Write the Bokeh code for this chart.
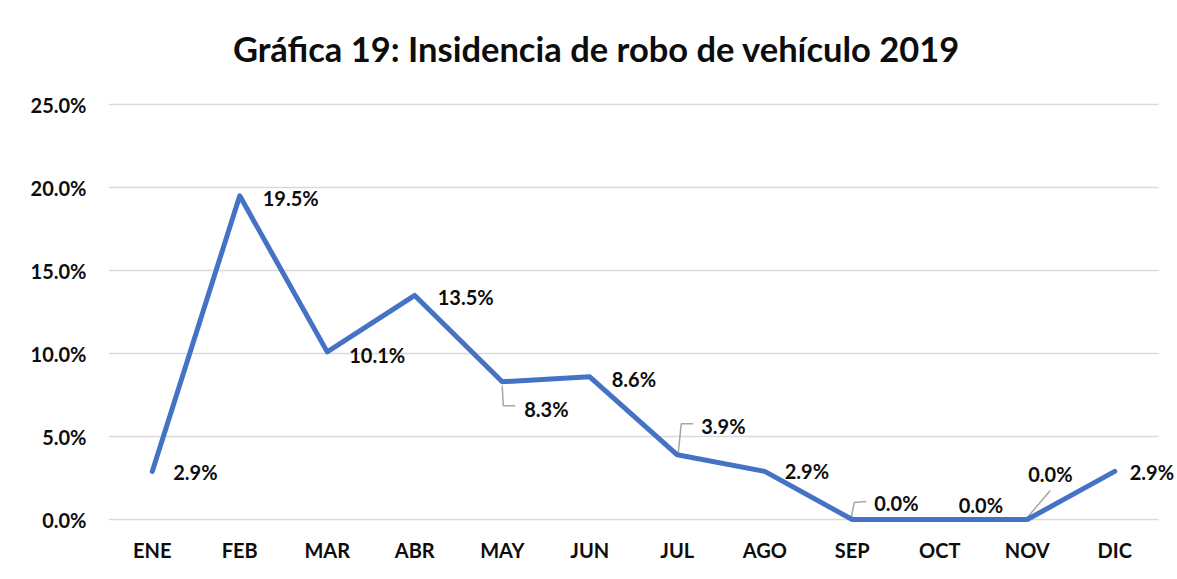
from bokeh.plotting import figure
from bokeh.models import (ColumnDataSource, LabelSet, Label, FixedTicker,
                          PrintfTickFormatter, Range1d)
from bokeh.core.properties import value
from bokeh.embed import file_html
from bokeh.resources import INLINE

# ---- data ----
months = ["ENE", "FEB", "MAR", "ABR", "MAY", "JUN",
          "JUL", "AGO", "SEP", "OCT", "NOV", "DIC"]
values = [2.9, 19.5, 10.1, 13.5, 8.3, 8.6, 3.9, 2.9, 0.0, 0.0, 0.0, 2.9]
y_ticks = [0, 5, 10, 15, 20, 25]
title_text = "Gráfica 19: Insidencia de robo de vehículo 2019"

# ---- label placement (pixels, right / down) ----
lab_dx = [21, 23, 22, 23, 22, 22, 24, 20, 22, 19, 1, 15]
lab_dy = [1, 2, 3, 2, 27, 2, -29, 0, -17, -15, -46, 1]
# leader lines: month index -> polyline offsets in pixels (right, down)
leaders = {
    4: [(0, 4), (1, 24), (13, 24)],
    6: [(1, -2), (4, -31), (16, -31)],
    8: [(-1, -2), (2, -17), (14, -18)],
    10: [(0, -2), (23, -29)],
}

FONT = "Lato"
BLUE = "#4472C4"
TXT = "#0D0D0D"
GRID = "#D9D9D9"

W, H = 1167, 571
left_b, bottom_b = 100, 48
frame_w = W - left_b
frame_h = H - bottom_b
n = len(months)
px_x = 87.5                            # pixels per category
x0, x1 = 0, frame_w / px_x
y0 = -0.6
px_y = 16.6                            # pixels per percent
y1 = y0 + frame_h / px_y

xpos = [i + 0.5 for i in range(n)]

p = figure(width=W, height=H, x_range=Range1d(x0, x1),
           y_range=Range1d(y0, y1), output_backend="svg",
           toolbar_location=None, tools="",
           min_border_left=left_b, min_border_right=0,
           min_border_top=0, min_border_bottom=bottom_b)
p.title.visible = False
p.outline_line_color = None
p.background_fill_color = "white"
p.border_fill_color = "white"
p.styles = {"margin-left": "8px", "margin-top": "6px"}

# axes
p.yaxis.ticker = FixedTicker(ticks=y_ticks)
p.yaxis.formatter = PrintfTickFormatter(format="%.1f%%")
p.xaxis.ticker = FixedTicker(ticks=xpos)
p.xaxis.major_label_overrides = {x: m for x, m in zip(xpos, months)}
for ax in (p.xaxis[0], p.yaxis[0]):
    ax.axis_line_color = None
    ax.major_tick_line_color = None
    ax.minor_tick_line_color = None
    ax.major_tick_out = 0
    ax.major_tick_in = 0
    ax.major_label_text_font = FONT
    ax.major_label_text_font_style = "bold"
    ax.major_label_text_font_size = "20px"
    ax.major_label_text_color = TXT
p.yaxis.major_label_standoff = 22
p.xaxis.major_label_standoff = 8
p.xgrid.grid_line_color = None
p.ygrid.grid_line_color = None

# gridlines across the category span only
p.segment(x0=[0] * len(y_ticks), x1=[n] * len(y_ticks), y0=y_ticks, y1=y_ticks,
          line_color=GRID, line_width=1.5)

# leader lines
xs, ys = [], []
for i, pts in leaders.items():
    xs.append([xpos[i] + dx / px_x for dx, dy in pts])
    ys.append([values[i] - dy / px_y for dx, dy in pts])
p.multi_line(xs=xs, ys=ys, line_color="#A6A6A6", line_width=1.5)

# main line
p.line(x=xpos, y=values, line_color=BLUE, line_width=5,
       line_join="round", line_cap="round")

# data labels
src = ColumnDataSource(dict(
    x=xpos, y=values,
    text=[f"{v:.1f}%" for v in values],
    dx=lab_dx, dy=[-d for d in lab_dy],
))
labels = LabelSet(x="x", y="y", text="text", x_offset="dx", y_offset="dy",
                  source=src, text_font=value(FONT), text_font_style="bold",
                  text_font_size="20px", text_color=TXT,
                  text_align="left", text_baseline="middle")
p.add_layout(labels)

# title
title = Label(x=(588 - left_b) / px_x, y=y1 - 42 / px_y, text=title_text,
              text_font=FONT, text_font_style="bold", text_font_size="34.5px",
              text_color=TXT, text_align="center", text_baseline="middle")
p.add_layout(title)

open("out.html", "w").write(file_html(p, INLINE))
